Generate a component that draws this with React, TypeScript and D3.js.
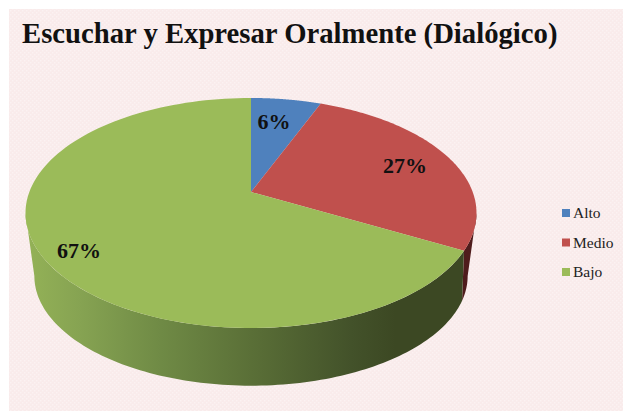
import React from "react";
import * as d3 from "d3";

const categories = ["Alto", "Medio", "Bajo"];
const values = [6, 27, 67];
const labels = ["6%", "27%", "67%"];
const topColors = ["#4f81bd", "#c0504d", "#9bbb59"];
const redWallColor = "#4f1c1c";
const sideStops: [number, string][] = [
  [0, "#94b257"], [0.12, "#86a352"], [0.3, "#6f8a45"], [0.5, "#5a6f37"], [0.72, "#43522a"], [0.82, "#3c4823"], [1, "#3c4823"],
];
const title = "Escuchar y Expresar Oralmente (Dialógico)";
const W = 623, H = 411;
const persp = -0.1826;
const seamShift = 0.1;

// perspective projection of the pie disc (angle clockwise from top)
const proj = (cx: number, cy: number, A: number, a: number, c: number) => (t: number): [number, number] => {
  const u = Math.sin(t), v = -Math.cos(t), d = 1 + c * v;
  return [cx + (A * u) / d, cy + (a * v) / d];
};
const topRim = proj(251, 192, 221.7, 111.2, persp);
const lowRim = proj(251, 256, 213, 106, persp);
const arcAngles = (a0: number, a1: number) => d3.range(0, 121).map((i) => a0 + ((a1 - a0) * i) / 120);
const line = d3.line<[number, number]>();
const silhouette = Math.asin(-persp);

const pie = d3.pie<number>().sort(null)(values);

export default function App() {
  const wallPath = (a0: number, a1: number, b0: number, b1: number) =>
    line([...arcAngles(a0, a1).map(topRim), ...arcAngles(b0, b1).reverse().map(lowRim)]) + "Z";
  const slicePath = (a0: number, a1: number) =>
    line([[251, 192] as [number, number], ...arcAngles(a0, a1).map(topRim)]) + "Z";
  const green = pie[2];
  const red = pie[1];
  const rightEdge = Math.PI / 2 + silhouette;
  const leftEdge = Math.PI * 1.5 - silhouette;
  const legendY = d3.scalePoint<string>().domain(categories).range([214, 273]);
  return (
    <svg width={W} height={H} style={{ position: "absolute", left: 0, top: 0, background: "#fff" }}>
      <defs>
        <pattern id="bgp" width="4" height="4" patternUnits="userSpaceOnUse">
          <rect width="4" height="4" fill="#f9ebeb" />
          <rect x="0" y="0" width="1.5" height="1.5" fill="#fbf2f2" />
          <rect x="2" y="2" width="1.5" height="1.5" fill="#fbf2f2" />
        </pattern>
        <linearGradient id="sideG" gradientUnits="userSpaceOnUse" x1="26" x2="477" y1="0" y2="0">
          {sideStops.map(([o, col]) => (
            <stop key={o} offset={o} stopColor={col} />
          ))}
        </linearGradient>
      </defs>
      <rect x="9" y="9" width={W - 9} height={H - 9} fill="url(#bgp)" />
      <text x="22" y="43" fontFamily="'Liberation Serif', serif" fontWeight="bold" fontSize="28.7" fill="#111">{title}</text>

      <path d={wallPath(rightEdge, red.endAngle, rightEdge, red.endAngle - seamShift)} fill={redWallColor} />
      <path d={wallPath(green.startAngle, leftEdge, green.startAngle - seamShift, leftEdge)} fill="url(#sideG)" />
      {pie.map((p, i) => (
        <path key={categories[i]} d={slicePath(p.startAngle, p.endAngle)} fill={topColors[i]} />
      ))}
      <g fontFamily="'Liberation Serif', serif" fontWeight="bold" fontSize="22" fill="#111" textAnchor="middle">
        <text x="274" y="129">{labels[0]}</text>
        <text x="405" y="173">{labels[1]}</text>
        <text x="79" y="258">{labels[2]}</text>
      </g>
      {categories.map((c, i) => (
        <g key={c}>
          <rect x="562" y={(legendY(c) as number) - 5} width="8" height="8" fill={topColors[i]} />
          <text x="573" y={(legendY(c) as number) + 4} fontFamily="'Liberation Serif', serif" fontSize="15.5" fill="#222">{c}</text>
        </g>
      ))}
    </svg>
  );
}
